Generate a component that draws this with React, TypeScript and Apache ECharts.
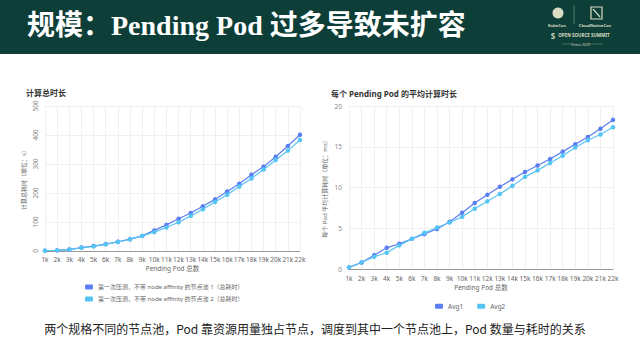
import React, { useEffect, useRef } from "react";
import * as echarts from "echarts";

const categories = ["1k","2k","3k","4k","5k","6k","7k","8k","9k","10k","11k","12k","13k","14k","15k","16k","17k","18k","19k","20k","21k","22k"];
const totalPool1 = [1, 2, 5, 12, 17, 24, 32, 41, 52, 71, 90, 111, 131, 154, 178, 205, 232, 263, 291, 325, 362, 401];
const totalPool2 = [1, 2, 5, 11, 16, 23, 31, 40, 52, 65, 81, 99, 121, 144, 169, 194, 222, 250, 281, 314, 346, 383];
const avg1 = [0.2, 0.8, 1.7, 2.6, 3.1, 3.7, 4.3, 4.9, 5.8, 6.9, 8.1, 9.1, 10.1, 11.0, 11.9, 12.7, 13.5, 14.4, 15.3, 16.2, 17.2, 18.3];
const avg2 = [0.2, 0.8, 1.5, 2.0, 2.9, 3.7, 4.45, 5.1, 5.7, 6.4, 7.4, 8.3, 9.2, 10.2, 11.3, 12.1, 13.0, 13.9, 14.9, 15.8, 16.5, 17.4];
const leftSeriesNames = ["第一次压测，不带 node affinity 的节点池 1（总耗时）", "第一次压测，不带 node affinity 的节点池 2（总耗时）"];
const rightSeriesNames = ["Avg1", "Avg2"];

const DARK = "#5B7FF2";
const LIGHT = "#55C5F3";
const FONT = "'Noto Sans', 'Noto Sans CJK SC', sans-serif";

export default function App() {
  const ref = useRef<HTMLDivElement>(null);
  useEffect(() => {
    if (!ref.current) return;
    const chart = echarts.init(ref.current, undefined, { renderer: "svg" });
    const xAxisBase = (gridIndex: number, nameGap: number, labelMargin: number) => ({
      type: "category",
      gridIndex,
      data: categories,
      boundaryGap: false,
      name: "Pending Pod 总数",
      nameLocation: "middle",
      nameGap,
      nameTextStyle: { fontSize: 6.5, color: "#666", fontFamily: FONT },
      axisLine: { lineStyle: { color: "#999", width: 1 } },
      axisTick: { show: false },
      axisLabel: { interval: 0, fontSize: 6.5, color: "#666", margin: labelMargin, fontFamily: FONT },
      splitLine: { show: true, lineStyle: { color: "#f0f0f0", width: 1 } },
    });
    const lineSeries = (name: string, data: number[], color: string, idx: number) => ({
      type: "line",
      name,
      data,
      xAxisIndex: idx,
      yAxisIndex: idx,
      symbol: "circle",
      symbolSize: 4.5,
      lineStyle: { color, width: 1.2 },
      itemStyle: { color },
    });
    chart.setOption({
      animation: false,
      backgroundColor: "#ffffff",
      title: [
        { text: "计算总时长", left: 21, top: 83, textStyle: { fontSize: 8, fontWeight: "bold", color: "#333", fontFamily: FONT } },
        { text: "每个 Pending Pod 的平均计算时长", left: 326, top: 84, textStyle: { fontSize: 8, fontWeight: "bold", color: "#333", fontFamily: FONT } },
      ],
      grid: [
        { left: 45, top: 106, width: 255, height: 145 },
        { left: 349, top: 106, width: 264, height: 163 },
      ],
      xAxis: [xAxisBase(0, 14, 5), xAxisBase(1, 15, 6)],
      yAxis: [
        {
          type: "value", gridIndex: 0, min: 0, max: 500, interval: 100,
          name: "计算总耗时（单位：s）", nameLocation: "middle", nameGap: 18, nameRotate: 90,
          nameTextStyle: { fontSize: 6, color: "#666", fontFamily: FONT },
          axisLine: { show: false }, axisTick: { show: false },
          axisLabel: { rotate: 90, fontSize: 6.5, color: "#888", margin: 6, fontFamily: FONT },
          splitLine: { lineStyle: { color: "#f0f0f0" } },
        },
        {
          type: "value", gridIndex: 1, min: 0, max: 20, interval: 5,
          name: "每个 Pod 平均计算耗时（单位：ms）", nameLocation: "middle", nameGap: 21, nameRotate: 90,
          nameTextStyle: { fontSize: 6, color: "#666", fontFamily: FONT },
          axisLine: { show: false }, axisTick: { show: false },
          axisLabel: { fontSize: 6.5, color: "#888", margin: 7, fontFamily: FONT },
          splitLine: { lineStyle: { color: "#f0f0f0" } },
        },
      ],
      legend: [
        {
          data: leftSeriesNames, orient: "vertical", left: 80, top: 279,
          itemWidth: 8, itemHeight: 5, itemGap: 6, icon: "roundRect",
          textStyle: { fontSize: 6, color: "#666", fontFamily: FONT },
        },
        {
          data: rightSeriesNames, orient: "horizontal", left: 430, top: 298,
          itemWidth: 8, itemHeight: 5, itemGap: 14, icon: "roundRect",
          textStyle: { fontSize: 6.5, color: "#666", fontFamily: FONT },
        },
      ],
      series: [
        lineSeries(leftSeriesNames[0], totalPool1, DARK, 0),
        lineSeries(leftSeriesNames[1], totalPool2, LIGHT, 0),
        lineSeries(rightSeriesNames[0], avg1, DARK, 1),
        lineSeries(rightSeriesNames[1], avg2, LIGHT, 1),
      ],
      graphic: [
        { type: "rect", shape: { x: 0, y: 0, width: 640, height: 54 }, style: { fill: "#0d3e38" }, silent: true },
        {
          type: "text", x: 27, y: 25,
          style: {
            text: "规模：Pending Pod 过多导致未扩容", fill: "#ffffff",
            font: "bold 28px 'Liberation Serif', 'Noto Sans CJK SC', serif",
            verticalAlign: "middle", textAlign: "left",
          },
        },
        { type: "circle", shape: { cx: 558, cy: 13, r: 5.5 }, style: { fill: "#d9dcc3" } },
        { type: "line", shape: { x1: 574, y1: 5, x2: 574, y2: 24 }, style: { stroke: "#8aa39a", lineWidth: 0.6 } },
        { type: "rect", shape: { x: 591, y: 7, width: 11, height: 12 }, style: { fill: "none", stroke: "#d9dcc3", lineWidth: 1.2 } },
        { type: "line", shape: { x1: 593, y1: 9, x2: 600, y2: 17 }, style: { stroke: "#d9dcc3", lineWidth: 1.2 } },
        { type: "text", x: 557, y: 25, style: { text: "KubeCon", fill: "#d9dcc3", font: "bold 4px 'Noto Sans'", textAlign: "center", verticalAlign: "middle" } },
        { type: "text", x: 595, y: 25, style: { text: "CloudNativeCon", fill: "#d9dcc3", font: "bold 4px 'Noto Sans'", textAlign: "center", verticalAlign: "middle" } },
        { type: "text", x: 553, y: 35, style: { text: "S", fill: "#d9dcc3", font: "bold 8px 'Noto Sans'", textAlign: "center", verticalAlign: "middle" } },
        { type: "text", x: 584, y: 35, style: { text: "OPEN SOURCE SUMMIT", fill: "#d9dcc3", font: "bold 4.5px 'Noto Sans'", textAlign: "center", verticalAlign: "middle" } },
        { type: "line", shape: { x1: 562, y1: 44, x2: 573, y2: 44 }, style: { stroke: "#8aa39a", lineWidth: 0.5 } },
        { type: "line", shape: { x1: 588, y1: 44, x2: 603, y2: 44 }, style: { stroke: "#8aa39a", lineWidth: 0.5 } },
        { type: "text", x: 580.5, y: 44, style: { text: "China 2023", fill: "#d9dcc3", font: "3.5px 'Noto Sans'", textAlign: "center", verticalAlign: "middle" } },
        {
          type: "text", x: 315, y: 328,
          style: {
            text: "两个规格不同的节点池，Pod 靠资源用量独占节点，调度到其中一个节点池上，Pod 数量与耗时的关系",
            fill: "#222", font: "12px 'Noto Sans CJK SC', sans-serif", textAlign: "center", verticalAlign: "middle",
          },
        },
      ],
    });
    return () => chart.dispose();
  }, []);
  return <div ref={ref} style={{ position: "fixed", left: 0, top: 0, width: 640, height: 360 }} />;
}
